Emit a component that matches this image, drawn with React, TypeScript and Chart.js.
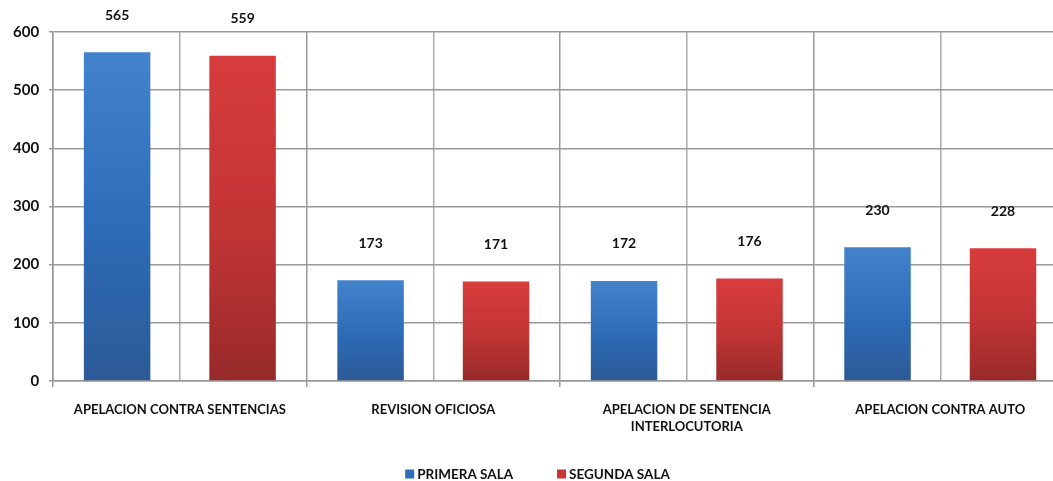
import React, { useEffect, useRef } from "react";
import { Chart, registerables } from "chart.js";

Chart.register(...registerables);

const categories: (string | string[])[] = [
  "APELACION CONTRA SENTENCIAS",
  "REVISION OFICIOSA",
  ["APELACION DE SENTENCIA", "INTERLOCUTORIA"],
  "APELACION CONTRA AUTO",
];
const primeraSala = [565, 173, 172, 230];
const segundaSala = [559, 171, 176, 228];
const seriesNames = ["PRIMERA SALA", "SEGUNDA SALA"];
const yTicks = [0, 100, 200, 300, 400, 500, 600];

const FONT = "Lato, 'Open Sans', sans-serif";
const solid = ["#2f6db8", "#c93535"];
const stops = [
  ["#4383cc", "#2c6bb6", "#2c5a96"],
  ["#d83c3c", "#c13434", "#982a2a"],
];

function barFill(si: number) {
  return (ctx: any) => {
    const chart = ctx.chart;
    const y = chart.scales?.y;
    if (ctx.type !== "data" || !y) return solid[si];
    const v = ctx.parsed?.y ?? 0;
    const top = y.getPixelForValue(v);
    const base = y.getPixelForValue(0);
    if (!isFinite(top) || !isFinite(base) || base - top < 1) return solid[si];
    const g = chart.ctx.createLinearGradient(0, top, 0, base);
    g.addColorStop(0, stops[si][0]);
    g.addColorStop(0.55, stops[si][1]);
    g.addColorStop(1, stops[si][2]);
    return g;
  };
}

const valueLabels = {
  id: "valueLabels",
  afterDatasetsDraw(chart: any) {
    const c = chart.ctx;
    c.save();
    c.font = `bold 14px ${FONT}`;
    c.fillStyle = "#111";
    c.textAlign = "center";
    c.textBaseline = "middle";
    chart.data.datasets.forEach((ds: any, di: number) => {
      const meta = chart.getDatasetMeta(di);
      meta.data.forEach((el: any, i: number) => {
        c.fillText(String(ds.data[i]), el.x, el.y - 37);
      });
    });
    c.restore();
  },
};

const bottomLegend = {
  id: "bottomLegend",
  afterDraw(chart: any) {
    const c = chart.ctx;
    const box = 9;
    const gapBoxText = 3;
    const gapItems = 44;
    c.save();
    c.font = `bold 13.5px ${FONT}`;
    c.textBaseline = "middle";
    c.textAlign = "left";
    const widths = seriesNames.map((n) => c.measureText(n).width);
    const total =
      widths.reduce((a, w) => a + box + gapBoxText + w, 0) + gapItems * (seriesNames.length - 1);
    let x = chart.width / 2 - total / 2;
    const y = chart.height - 7;
    seriesNames.forEach((n, i) => {
      c.fillStyle = solid[i];
      c.fillRect(x, y - box / 2, box, box);
      x += box + gapBoxText;
      c.fillStyle = "#111";
      c.fillText(n, x, y + 1);
      x += widths[i] + gapItems;
    });
    c.restore();
  },
};

export default function App() {
  const ref = useRef<HTMLCanvasElement | null>(null);
  useEffect(() => {
    if (!ref.current) return;
    const chart = new Chart(ref.current, {
      type: "bar",
      data: {
        labels: categories,
        datasets: [
          {
            label: seriesNames[0],
            data: primeraSala,
            backgroundColor: barFill(0),
            borderWidth: 0,
            categoryPercentage: 0.99,
            barPercentage: 0.53,
          },
          {
            label: seriesNames[1],
            data: segundaSala,
            backgroundColor: barFill(1),
            borderWidth: 0,
            categoryPercentage: 0.99,
            barPercentage: 0.53,
          },
        ],
      },
      options: {
        responsive: false,
        animation: false,
        layout: { padding: { top: 32, left: 3, right: 8, bottom: 31 } },
        plugins: {
          tooltip: { enabled: false },
          legend: { display: false },
        },
        scales: {
          x: {
            type: "category",
            offset: true,
            grid: { offset: true, color: "#999", lineWidth: 1.5, tickLength: 6 },
            border: { color: "#999", width: 1.5 },
            ticks: {
              color: "#111",
              padding: 14,
              maxRotation: 0,
              autoSkip: false,
              font: { family: FONT, weight: "bold", size: 13, lineHeight: 1.35 },
            },
          },
          x2: {
            type: "category",
            labels: categories as any,
            offset: true,
            position: "bottom",
            grid: { offset: false, color: "#aaa", lineWidth: 1.5, drawTicks: false },
            border: { display: false },
            ticks: { display: false },
          },
          y: {
            min: 0,
            max: 600,
            afterBuildTicks: (axis: any) => {
              axis.ticks = yTicks.map((v) => ({ value: v }));
            },
            grid: { color: "#999", lineWidth: 1.5, tickLength: 4 },
            border: { color: "#999", width: 1.5 },
            ticks: {
              color: "#111",
              padding: 10,
              font: { family: FONT, weight: "bold", size: 15 },
            },
          },
        },
      },
      plugins: [valueLabels, bottomLegend],
    });
    return () => chart.destroy();
  }, []);
  return (
    <div
      style={{
        position: "absolute",
        left: 0,
        top: 0,
        width: 1053,
        height: 481,
        overflow: "hidden",
        background: "#fff",
      }}
    >
      <canvas ref={ref} width={1075} height={481} style={{ display: "block" }} />
    </div>
  );
}
